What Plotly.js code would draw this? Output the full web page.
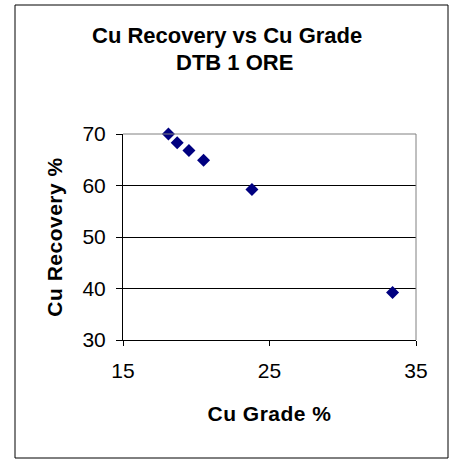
<!DOCTYPE html>
<html>
<head>
<meta charset="utf-8">
<script src="https://cdn.plot.ly/plotly-3.0.1.min.js"></script>
<style>
html,body{margin:0;padding:0;background:#fff;}
#chart{width:449px;height:459px;}
#chart .xtitle, #chart .ytitle { letter-spacing: 0.5px; }
</style>
</head>
<body>
<div id="chart"></div>
<script>
const cuGrade = [18.1, 18.7, 19.5, 20.5, 23.8, 33.4];
const cuRecovery = [70.0, 68.3, 66.8, 64.9, 59.2, 39.2];
const xTicks = [15, 25, 35];
const yTicks = [30, 40, 50, 60, 70];
const titleLines = ["Cu Recovery vs Cu Grade", "DTB 1 ORE"];
const xTitle = "Cu Grade %";
const yTitle = "Cu Recovery %";

const FONT = "Arial, 'Liberation Sans', sans-serif";
const L = 123, R = 33, T = 134, B = 119;
const pw = 449 - L - R, ph = 459 - T - B;
const px = v => (v - L) / pw;
const py = v => (459 - B - v) / ph;

const trace = {
  x: cuGrade, y: cuRecovery, type: 'scatter', mode: 'markers',
  marker: {symbol: 'diamond', size: 10, color: '#000080', line: {width: 0}},
  hoverinfo: 'x+y', cliponaxis: false
};

const titleX = [227, 234];
const titleY = [35, 63];
const annotations = titleLines.map((t, i) => ({
  text: '<b>' + t + '</b>', xref: 'paper', yref: 'paper',
  x: px(titleX[i]), y: py(titleY[i]), xanchor: 'center', yanchor: 'middle',
  showarrow: false, font: {family: FONT, size: 22, color: '#000'}
}));

const layout = {
  width: 449, height: 459,
  margin: {l: L, r: R, t: T, b: B, pad: 0},
  paper_bgcolor: '#ffffff', plot_bgcolor: '#ffffff',
  showlegend: false,
  font: {family: FONT, color: '#000000', size: 21},
  annotations: annotations,
  xaxis: {
    range: [15, 35], tickvals: xTicks, ticktext: xTicks.map(String),
    showgrid: false, zeroline: false,
    showline: true, linecolor: '#000', linewidth: 1,
    ticks: 'outside', ticklen: 5, tickcolor: '#000', tickwidth: 1,
    ticklabelstandoff: 7,
    tickfont: {family: FONT, size: 21, color: '#000'},
    title: {text: '<b>' + xTitle + '</b>', font: {family: FONT, size: 21, color: '#000'}, standoff: 25}
  },
  yaxis: {
    range: [30, 70], tickvals: yTicks, ticktext: yTicks.map(String),
    showgrid: true, gridcolor: '#000', gridwidth: 1, zeroline: false,
    showline: true, linecolor: '#000', linewidth: 1,
    ticks: 'outside', ticklen: 6, tickcolor: '#000', tickwidth: 1,
    ticklabelstandoff: 6,
    tickfont: {family: FONT, size: 21, color: '#000'},
    title: {text: '<b>' + yTitle + '</b>', font: {family: FONT, size: 21, color: '#000'}, standoff: 14}
  },
  shapes: [
    {type: 'path', xref: 'paper', yref: 'paper', path: 'M 0 1 L 1 1 L 1 0',
     line: {color: '#808080', width: 1}, layer: 'above'},
    {type: 'rect', xref: 'paper', yref: 'paper',
     x0: px(15), x1: px(448), y0: py(458), y1: py(5),
     line: {color: '#000', width: 1}, fillcolor: 'rgba(0,0,0,0)', layer: 'above'}
  ]
};

Plotly.newPlot('chart', [trace], layout, {displayModeBar: false, staticPlot: true});
</script>
</body>
</html>
